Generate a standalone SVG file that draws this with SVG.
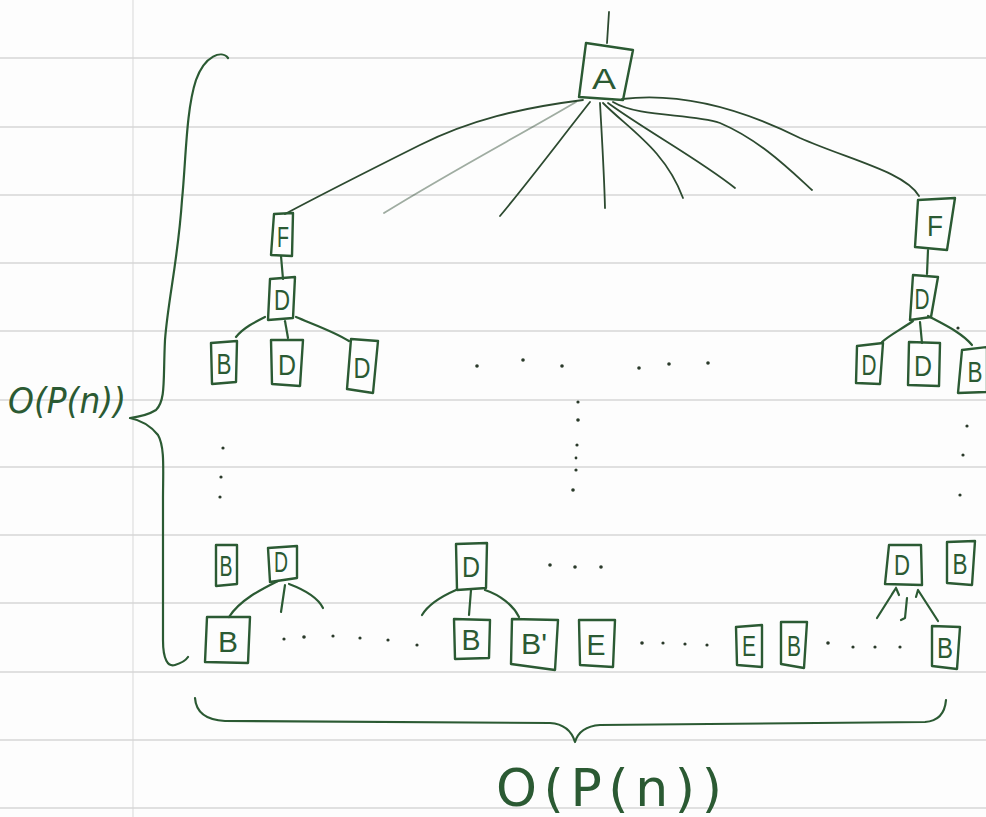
<svg xmlns="http://www.w3.org/2000/svg" width="986" height="817" viewBox="0 0 986 817">
  <defs>
    <style>
      .rule { stroke: #d6d6d6; stroke-width: 1.6; fill: none; }
      .margin { stroke: #e2e2e2; stroke-width: 1.4; fill: none; }
      .box { fill: none; stroke: #2b5a33; stroke-width: 2.4; stroke-linejoin: round; }
      .lbl { font-family: "Liberation Sans", "DejaVu Sans", sans-serif; fill: #2b5a33; text-anchor: middle; font-size: 30px; }
      .edge { fill: none; stroke: #2d4a30; stroke-width: 1.8; stroke-linecap: round; }
      .ink { fill: none; stroke: #2b5a33; stroke-width: 2.2; stroke-linecap: round; stroke-linejoin: round; }
      .dot { fill: #2a3a2a; }
      .big { font-family: "DejaVu Sans", "Liberation Sans", sans-serif; fill: #2b5a33; }
    </style>
  </defs>

  <rect width="986" height="817" fill="#fdfdfd"/>

  <!-- ruled paper -->
  <g id="paper">
    <line class="margin" x1="133" y1="0" x2="133" y2="817"/>
    <line class="rule" x1="0" y1="58" x2="986" y2="58"/>
    <line class="rule" x1="0" y1="127" x2="986" y2="127"/>
    <line class="rule" x1="0" y1="195" x2="986" y2="195"/>
    <line class="rule" x1="0" y1="263" x2="986" y2="263"/>
    <line class="rule" x1="0" y1="331" x2="986" y2="331"/>
    <line class="rule" x1="0" y1="400" x2="986" y2="400"/>
    <line class="rule" x1="0" y1="467" x2="986" y2="467"/>
    <line class="rule" x1="0" y1="535" x2="986" y2="535"/>
    <line class="rule" x1="0" y1="603" x2="986" y2="603"/>
    <line class="rule" x1="0" y1="672" x2="986" y2="672"/>
    <line class="rule" x1="0" y1="740" x2="986" y2="740"/>
    <line class="rule" x1="0" y1="808" x2="986" y2="808"/>
  </g>

  <!-- connectors -->
  <g id="connectors">
    <path class="edge" d="M607,43 L609,12"/>
    <!-- fan out of A -->
    <path class="edge" d="M583,100 C520,108 470,120 420,145 C370,170 330,190 285,214"/>
    <path class="edge" d="M576,102 C520,135 450,172 384,213" stroke-opacity="0.45"/>
    <path class="edge" d="M590,102 C560,140 530,180 500,216"/>
    <path class="edge" d="M600,103 C602,140 604,170 605,208"/>
    <path class="edge" d="M603,103 C630,130 665,150 683,198"/>
    <path class="edge" d="M608,103 C645,130 700,160 735,188"/>
    <path class="edge" d="M613,102 C640,118 690,113 720,123 C760,140 790,170 812,190"/>
    <path class="edge" d="M622,99 C680,92 740,108 800,138 C850,160 905,172 919,196"/>
    <!-- left column -->
    <path class="ink" d="M281,256 L283,279"/>
    <path class="ink" d="M265,317 C255,322 243,328 236,337"/>
    <path class="ink" d="M285,321 L288,338"/>
    <path class="ink" d="M296,317 C315,325 335,332 349,341"/>
    <!-- right column -->
    <path class="ink" d="M928,250 L927,274"/>
    <path class="ink" d="M913,321 C900,330 890,335 882,342"/>
    <path class="ink" d="M920,322 L922,343"/>
    <path class="ink" d="M928,316 C945,325 962,333 972,345"/>
    <!-- bottom rows -->
    <path class="ink" d="M278,581 C260,590 240,600 229,617"/>
    <path class="ink" d="M285,585 L281,612"/>
    <path class="ink" d="M289,584 C305,590 318,598 323,608"/>
    <path class="ink" d="M456,590 C440,597 428,605 422,615"/>
    <path class="ink" d="M471,590 L469,615"/>
    <path class="ink" d="M485,590 C500,595 513,605 519,617"/>
    <path class="ink" d="M896,588 L877,618 M896,588 L892,594 M896,588 L899,595"/>
    <path class="ink" d="M907,598 L905,618 L901,620"/>
    <path class="ink" d="M918,590 L938,621 M918,590 L916,597"/>
  </g>

  <!-- ellipsis dots -->
  <g id="dots">
    <circle class="dot" cx="477" cy="366" r="1.8"/>
    <circle class="dot" cx="523" cy="360" r="1.8"/>
    <circle class="dot" cx="562" cy="366" r="1.8"/>
    <circle class="dot" cx="639" cy="368" r="1.8"/>
    <circle class="dot" cx="669" cy="364" r="1.8"/>
    <circle class="dot" cx="708" cy="363" r="1.8"/>
    <circle class="dot" cx="578" cy="402" r="1.6"/>
    <circle class="dot" cx="578" cy="420" r="1.8"/>
    <circle class="dot" cx="577" cy="445" r="1.6"/>
    <circle class="dot" cx="576" cy="458" r="1.4"/>
    <circle class="dot" cx="576" cy="470" r="1.6"/>
    <circle class="dot" cx="573" cy="490" r="1.8"/>
    <circle class="dot" cx="223" cy="448" r="1.6"/>
    <circle class="dot" cx="221" cy="477" r="1.6"/>
    <circle class="dot" cx="220" cy="497" r="1.6"/>
    <circle class="dot" cx="967" cy="426" r="1.6"/>
    <circle class="dot" cx="963" cy="455" r="1.6"/>
    <circle class="dot" cx="960" cy="495" r="1.6"/>
    <circle class="dot" cx="958" cy="328" r="1.6"/>
    <circle class="dot" cx="550" cy="565" r="1.8"/>
    <circle class="dot" cx="575" cy="567" r="1.8"/>
    <circle class="dot" cx="601" cy="567" r="1.8"/>
    <circle class="dot" cx="284" cy="639" r="1.6"/>
    <circle class="dot" cx="304" cy="637" r="1.8"/>
    <circle class="dot" cx="333" cy="636" r="1.6"/>
    <circle class="dot" cx="360" cy="638" r="1.6"/>
    <circle class="dot" cx="388" cy="640" r="1.6"/>
    <circle class="dot" cx="417" cy="645" r="1.6"/>
    <circle class="dot" cx="642" cy="643" r="1.8"/>
    <circle class="dot" cx="663" cy="643" r="1.6"/>
    <circle class="dot" cx="685" cy="644" r="1.6"/>
    <circle class="dot" cx="707" cy="645" r="1.6"/>
    <circle class="dot" cx="828" cy="643" r="1.8"/>
    <circle class="dot" cx="853" cy="647" r="1.6"/>
    <circle class="dot" cx="875" cy="647" r="1.6"/>
    <circle class="dot" cx="900" cy="647" r="1.6"/>
  </g>

  <!-- nodes -->
  <g id="nA"><polygon class="box" points="586,43 633,50 623,100 579,97"/><text class="lbl" x="604" y="89" font-size="40" textLength="24" lengthAdjust="spacingAndGlyphs">A</text></g>
  <g id="nF1"><polygon class="box" points="274,214 293,213 292,256 271,255"/><text class="lbl" x="283" y="247" textLength="12" lengthAdjust="spacingAndGlyphs">F</text></g>
  <g id="nD1"><polygon class="box" points="270,279 295,277 293,318 268,320"/><text class="lbl" x="282" y="310" textLength="16" lengthAdjust="spacingAndGlyphs">D</text></g>
  <g id="nB1"><polygon class="box" points="211,343 237,341 236,382 212,384"/><text class="lbl" x="224" y="374" textLength="15" lengthAdjust="spacingAndGlyphs">B</text></g>
  <g id="nD2"><polygon class="box" points="271,340 303,340 300,386 272,384"/><text class="lbl" x="287" y="375" textLength="18" lengthAdjust="spacingAndGlyphs">D</text></g>
  <g id="nD3"><polygon class="box" points="351,339 378,341 373,393 347,389"/><text class="lbl" x="362" y="378" textLength="17" lengthAdjust="spacingAndGlyphs">D</text></g>

  <g id="nF2"><polygon class="box" points="918,200 955,198 947,250 915,247"/><text class="lbl" x="935" y="236" textLength="16" lengthAdjust="spacingAndGlyphs">F</text></g>
  <g id="nD4"><polygon class="box" points="913,275 938,277 931,317 910,320"/><text class="lbl" x="922" y="309" textLength="15" lengthAdjust="spacingAndGlyphs">D</text></g>
  <g id="nD5"><polygon class="box" points="857,346 883,343 880,384 856,383"/><text class="lbl" x="869" y="375" textLength="15" lengthAdjust="spacingAndGlyphs">D</text></g>
  <g id="nD6"><polygon class="box" points="909,342 940,343 939,386 908,385"/><text class="lbl" x="923" y="376" textLength="18" lengthAdjust="spacingAndGlyphs">D</text></g>
  <g id="nB2"><polygon class="box" points="962,350 987,347 987,392 958,393"/><text class="lbl" x="975" y="382" textLength="15" lengthAdjust="spacingAndGlyphs">B</text></g>

  <g id="nB3"><polygon class="box" points="216,545 237,545 237,584 216,586"/><text class="lbl" x="226" y="576" font-size="26" textLength="13" lengthAdjust="spacingAndGlyphs">B</text></g>
  <g id="nD7"><polygon class="box" points="268,548 297,546 297,578 270,582"/><text class="lbl" x="281" y="572" font-size="23" textLength="14" lengthAdjust="spacingAndGlyphs">D</text></g>
  <g id="nB4"><polygon class="box" points="207,617 250,617 248,663 205,662"/><text class="lbl" x="228" y="652" textLength="20" lengthAdjust="spacingAndGlyphs">B</text></g>
  <g id="nD8"><polygon class="box" points="456,544 487,543 486,588 457,590"/><text class="lbl" x="471" y="577" textLength="18" lengthAdjust="spacingAndGlyphs">D</text></g>
  <g id="nB5"><polygon class="box" points="454,619 490,620 489,658 455,659"/><text class="lbl" x="471" y="650" textLength="19" lengthAdjust="spacingAndGlyphs">B</text></g>
  <g id="nB6"><polygon class="box" points="512,619 558,620 555,670 511,664"/><text class="lbl" x="534" y="654" textLength="26" lengthAdjust="spacingAndGlyphs">B'</text></g>
  <g id="nE1"><polygon class="box" points="579,620 615,620 613,667 580,665"/><text class="lbl" x="596" y="655" textLength="19" lengthAdjust="spacingAndGlyphs">E</text></g>
  <g id="nE2"><polygon class="box" points="736,627 762,625 762,667 737,665"/><text class="lbl" x="749" y="656" font-size="24" textLength="14" lengthAdjust="spacingAndGlyphs">E</text></g>
  <g id="nB7"><polygon class="box" points="781,622 807,622 804,668 781,664"/><text class="lbl" x="794" y="656" textLength="14" lengthAdjust="spacingAndGlyphs">B</text></g>
  <g id="nD9"><polygon class="box" points="889,545 921,545 922,585 885,584"/><text class="lbl" x="902" y="575" font-size="26" textLength="16" lengthAdjust="spacingAndGlyphs">D</text></g>
  <g id="nB8"><polygon class="box" points="947,542 975,541 972,585 947,583"/><text class="lbl" x="960" y="574" textLength="15" lengthAdjust="spacingAndGlyphs">B</text></g>
  <g id="nB9"><polygon class="box" points="932,626 960,627 957,669 932,666"/><text class="lbl" x="945" y="658" textLength="16" lengthAdjust="spacingAndGlyphs">B</text></g>

  <!-- braces and bounds -->
  <g id="braces">
    <path class="ink" d="M228,58 C222,50 205,55 196,80 C186,110 186,160 182,200 C178,260 168,300 165,340 C163,380 166,400 156,410 C148,415 138,417 130,418 C140,420 150,425 158,435 C165,447 163,470 163,500 L163,640 C163,660 168,667 175,665 C182,663 186,660 188,657"/>
    <path class="ink" d="M195,698 C196,712 205,720 225,721 L550,723 C565,724 572,732 575,742 C578,732 586,726 600,725 L925,722 C940,721 945,712 946,700"/>
  </g>

  <g id="labels">
    <text class="big" x="8" y="413" font-size="36" font-style="italic" textLength="118" lengthAdjust="spacingAndGlyphs">O(P(n))</text>
    <text class="big" x="496" y="806" font-size="52" textLength="226" lengthAdjust="spacing">O(P(n))</text>
  </g>
</svg>
